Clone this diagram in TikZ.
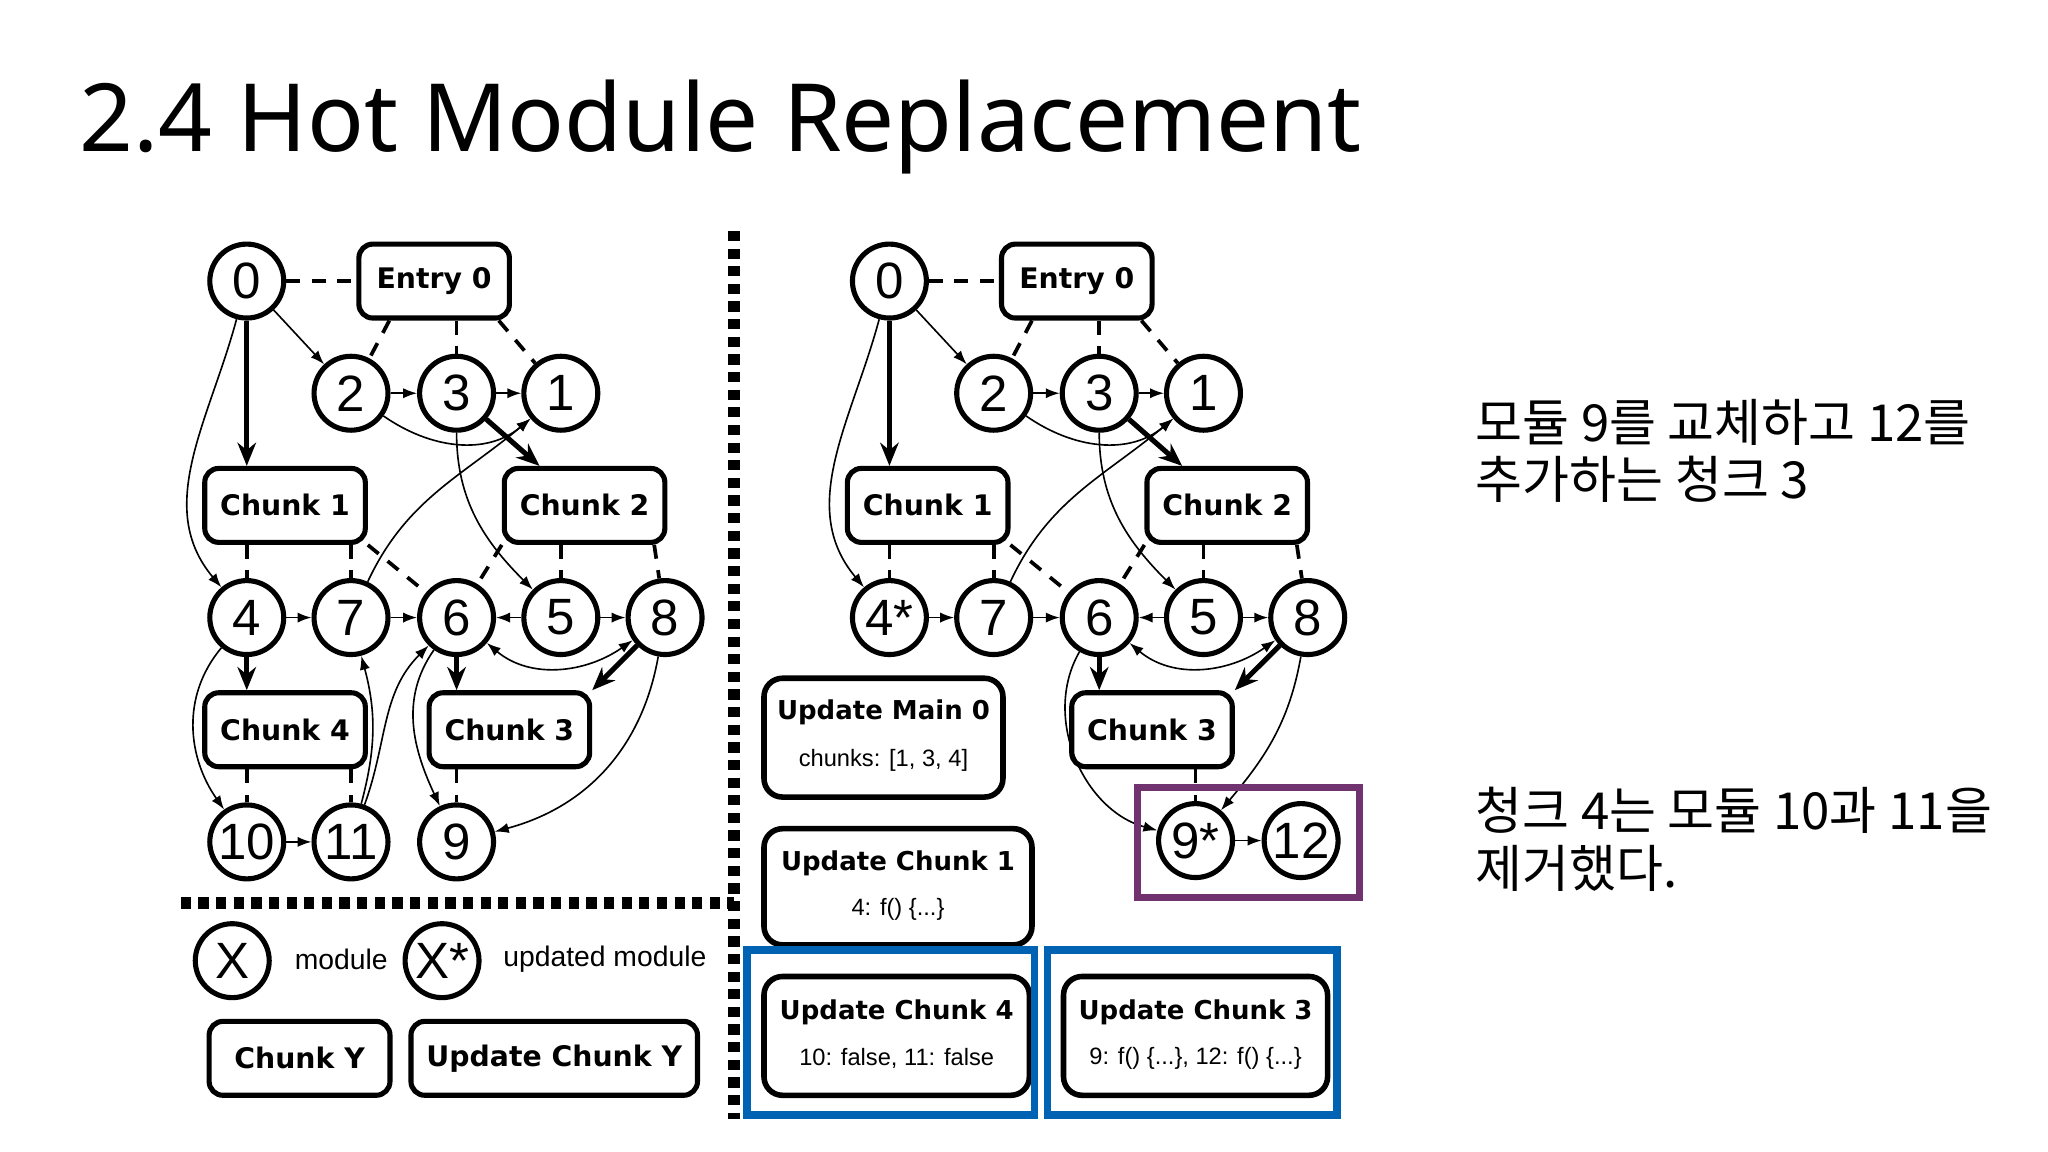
\documentclass[tikz,border=0pt]{standalone}
\usepackage{fontspec}
\setmainfont{Liberation Sans}
\newfontfamily\kr{Noto Sans CJK KR}
\newfontfamily\ttl{Noto Sans}
\newfontfamily\bx{DejaVu Sans}
\usetikzlibrary{arrows.meta}
\begin{document}
\begin{tikzpicture}[x=0.01cm,y=-0.01cm,
  m/.style={circle,draw,line width=1.1pt,minimum size=0.56cm,inner sep=0pt,font=\fontsize{11}{11}\selectfont},
  ch/.style={draw,rounded corners=3pt,line width=1.1pt,minimum width=1.14cm,minimum height=0.56cm,font=\bx\bfseries\fontsize{6.1}{7}\selectfont},
  up/.style={draw,rounded corners=4pt,line width=1.2pt,align=center,inner sep=0pt},
  ut/.style={font=\bx\bfseries\fontsize{5.6}{7}\selectfont},
  us/.style={font=\fontsize{5.1}{6}\selectfont},
  ds/.style={dashed,line width=0.8pt,dash pattern=on 3pt off 2.5pt},
  ta/.style={-{Latex[length=3pt,width=2.2pt]},line width=0.35pt},
  tk/.style={-{Stealth[length=5pt,width=4pt]},line width=1.1pt},
  dv/.style={line width=2.6pt,dash pattern=on 2.2pt off 1.6pt},
  hl/.style={line width=1.6pt}]
\useasboundingbox (0,0) rectangle (1552,873);
\node[anchor=base west,font=\ttl\fontsize{20.3}{21}\selectfont] (title) at (48,115) {2.4 Hot Module Replacement};
% ---------------- left graph
\node[m] (L0) at (187,213) {0};
\node[ch] (LE) at (329,213) {Entry 0};
\node[m] (L2) at (266,298) {2};
\node[m] (L3) at (346,298) {3};
\node[m] (L1) at (425,298) {1};
\node[ch] (LC1) at (216,383) {Chunk 1};
\node[ch] (LC2) at (443,383) {Chunk 2};
\node[m] (L4) at (187,468) {4};
\node[m] (L7) at (266,468) {7};
\node[m] (L6) at (346,468) {6};
\node[m] (L5) at (425,468) {5};
\node[m] (L8) at (504,468) {8};
\node[ch] (LC4) at (216,553) {Chunk 4};
\node[ch] (LC3) at (386,553) {Chunk 3};
\node[m] (L10) at (187,638) {10};
\node[m] (L11) at (266,638) {11};
\node[m] (L9) at (346,638) {9};
\draw[ds] (L0)--(LE); \draw[ds] (LE.south west)++(25,0)--(L2); \draw[ds] (LE.south-|L3)--(L3); \draw[ds] (LE.south east)++(-10,0)--(L1);
\draw[ds] (LC1.south-|L4)--(L4); \draw[ds] (LC1.south-|L7)--(L7); \draw[ds] (LC1.south east)--(L6);
\draw[ds] (LC2.south west)--(L6); \draw[ds] (LC2.south-|L5)--(L5); \draw[ds] (LC2.south east)++(-10,0)--(L8);
\draw[ds] (LC4.south-|L10)--(L10); \draw[ds] (LC4.south-|L11)--(L11); \draw[ds] (LC3.south-|L9)--(L9);
\draw[ta] (L0)--(L2); \draw[tk] (L0)--(LC1.north-|L0); \draw[ta] (L0) to[out=255,in=130] (L4);
\draw[ta] (L2)--(L3); \draw[ta] (L3)--(L1); \draw[ta] (L2) to[out=-35,in=-140] (L1);
\draw[tk] (L3)--(LC2); \draw[ta] (L3) to[out=-90,in=135] (L5);
\draw[ta] (L4)--(L7); \draw[ta] (L7)--(L6); \draw[ta] (L5)--(L6); \draw[ta] (L5)--(L8);
\draw[ta] (L7) to[out=65,in=-140] (L1);
\draw[{Latex[length=3pt,width=2.2pt]}-{Latex[length=3pt,width=2.2pt]},line width=0.35pt] (L6) to[out=-40,in=-145] (L8);
\draw[tk] (L8)--(LC3.north east); \draw[tk] (L6)--(L6|-LC3.north);
\draw[tk] (L4)--(LC4.north-|L4);
\draw[ta] (L4) to[out=-130,in=125] (L10);
\draw[ta] (L10)--(L11);
\draw[ta] (L11) to[out=75,in=-75] (L7);
\draw[ta] (L11) to[out=70,in=-135] (L6);
\draw[ta] (L6) to[out=-125,in=115] (L9);
\draw[ta] (L8) to[out=-100,in=15] (L9);
% separators
\coordinate (vt) at (556,175); \coordinate (vb) at (556,848);
\coordinate (hl) at (137,684); \coordinate (hr) at (556,684);
\draw[dv] (vt)--(vb); \draw[dv] (hl)--(hr);
% legend
\node[m] (LX) at (176,728) {X};
\node[anchor=west,font=\fontsize{6.1}{8}\selectfont] (lm) at (211,727) {module};
\node[m] (LXs) at (335,728) {X*};
\node[anchor=west,font=\fontsize{6.1}{8}\selectfont] (lum) at (369,727) {updated module};
\node[ch,minimum width=1.37cm] (LY) at (227,802) {Chunk Y};
\node[ch,minimum width=2.04cm] (LUY) at (420,802) {Update Chunk Y};
% ---------------- right graph
\node[m] (R0) at (674,213) {0};
\node[ch] (RE) at (816,213) {Entry 0};
\node[m] (R2) at (753,298) {2};
\node[m] (R3) at (833,298) {3};
\node[m] (R1) at (912,298) {1};
\node[ch] (RC1) at (703,383) {Chunk 1};
\node[ch] (RC2) at (930,383) {Chunk 2};
\node[m] (R4) at (674,468) {4*};
\node[m] (R7) at (753,468) {7};
\node[m] (R6) at (833,468) {6};
\node[m] (R5) at (912,468) {5};
\node[m] (R8) at (991,468) {8};
\node[ch] (RC3) at (873,553) {Chunk 3};
\node[m] (R9) at (906,637) {9*};
\node[m] (R12) at (986,637) {12};
\draw[ds] (R0)--(RE); \draw[ds] (RE.south west)++(25,0)--(R2); \draw[ds] (RE.south-|R3)--(R3); \draw[ds] (RE.south east)++(-10,0)--(R1);
\draw[ds] (RC1.south-|R4)--(R4); \draw[ds] (RC1.south-|R7)--(R7); \draw[ds] (RC1.south east)--(R6);
\draw[ds] (RC2.south west)--(R6); \draw[ds] (RC2.south-|R5)--(R5); \draw[ds] (RC2.south east)++(-10,0)--(R8);
\draw[ds] (RC3.south-|R9)--(R9);
\draw[ta] (R0)--(R2); \draw[tk] (R0)--(RC1.north-|R0); \draw[ta] (R0) to[out=255,in=130] (R4);
\draw[ta] (R2)--(R3); \draw[ta] (R3)--(R1); \draw[ta] (R2) to[out=-35,in=-140] (R1);
\draw[tk] (R3)--(RC2); \draw[ta] (R3) to[out=-90,in=135] (R5);
\draw[ta] (R4)--(R7); \draw[ta] (R7)--(R6); \draw[ta] (R5)--(R6); \draw[ta] (R5)--(R8);
\draw[ta] (R7) to[out=65,in=-140] (R1);
\draw[{Latex[length=3pt,width=2.2pt]}-{Latex[length=3pt,width=2.2pt]},line width=0.35pt] (R6) to[out=-40,in=-145] (R8);
\draw[tk] (R8)--(RC3.north east); \draw[tk] (R6)--(R6|-RC3.north);
\draw[ta] (R6) to[out=-120,in=165] (R9);
\draw[ta] (R8) to[out=-100,in=50] (R9);
\draw[ta] (R9)--(R12);
\node[draw=violet!60!black!80,hl,minimum width=1.68cm,minimum height=0.83cm] (pbox) at (946,638.5) {};
% update boxes
\node[up,minimum width=1.81cm,minimum height=0.9cm] (UM) at (669.5,559) {};
\node[ut] (UMt) at (669.5,540) {Update Main 0};
\node[us] (UMs) at (669.5,576) {chunks: [1, 3, 4]};
\node[up,minimum width=2.03cm,minimum height=0.88cm] (U1) at (680.5,672) {};
\node[ut] (U1t) at (680.5,654) {Update Chunk 1};
\node[us] (U1s) at (680.5,689) {4: f() \{...\}};
\node[up,minimum width=2.01cm,minimum height=0.9cm] (U4) at (679.5,785) {};
\node[ut] (U4t) at (679.5,767) {Update Chunk 4};
\node[us] (U4s) at (679.5,802) {10: false, 11: false};
\node[up,minimum width=2.0cm,minimum height=0.9cm] (U3) at (906,785) {};
\node[ut] (U3t) at (906,767) {Update Chunk 3};
\node[us] (U3s) at (906,802) {9: f() \{...\}, 12: f() \{...\}};
\node[draw=blue!45!cyan!70!black,hl,minimum width=2.18cm,minimum height=1.25cm] (b4) at (675,782.5) {};
\node[draw=blue!45!cyan!70!black,hl,minimum width=2.19cm,minimum height=1.25cm] (b3) at (903.5,782.5) {};
% korean notes
\node[anchor=north west,align=left,font=\kr\fontsize{11}{12.4}\selectfont] (n1) at (1106,290) {모듈 9를 교체하고 12를\\추가하는 청크 3};
\node[anchor=north west,align=left,font=\kr\fontsize{11}{12.4}\selectfont] (n2) at (1106,584) {청크 4는 모듈 10과 11을\\제거했다.};
\end{tikzpicture}
\end{document}
